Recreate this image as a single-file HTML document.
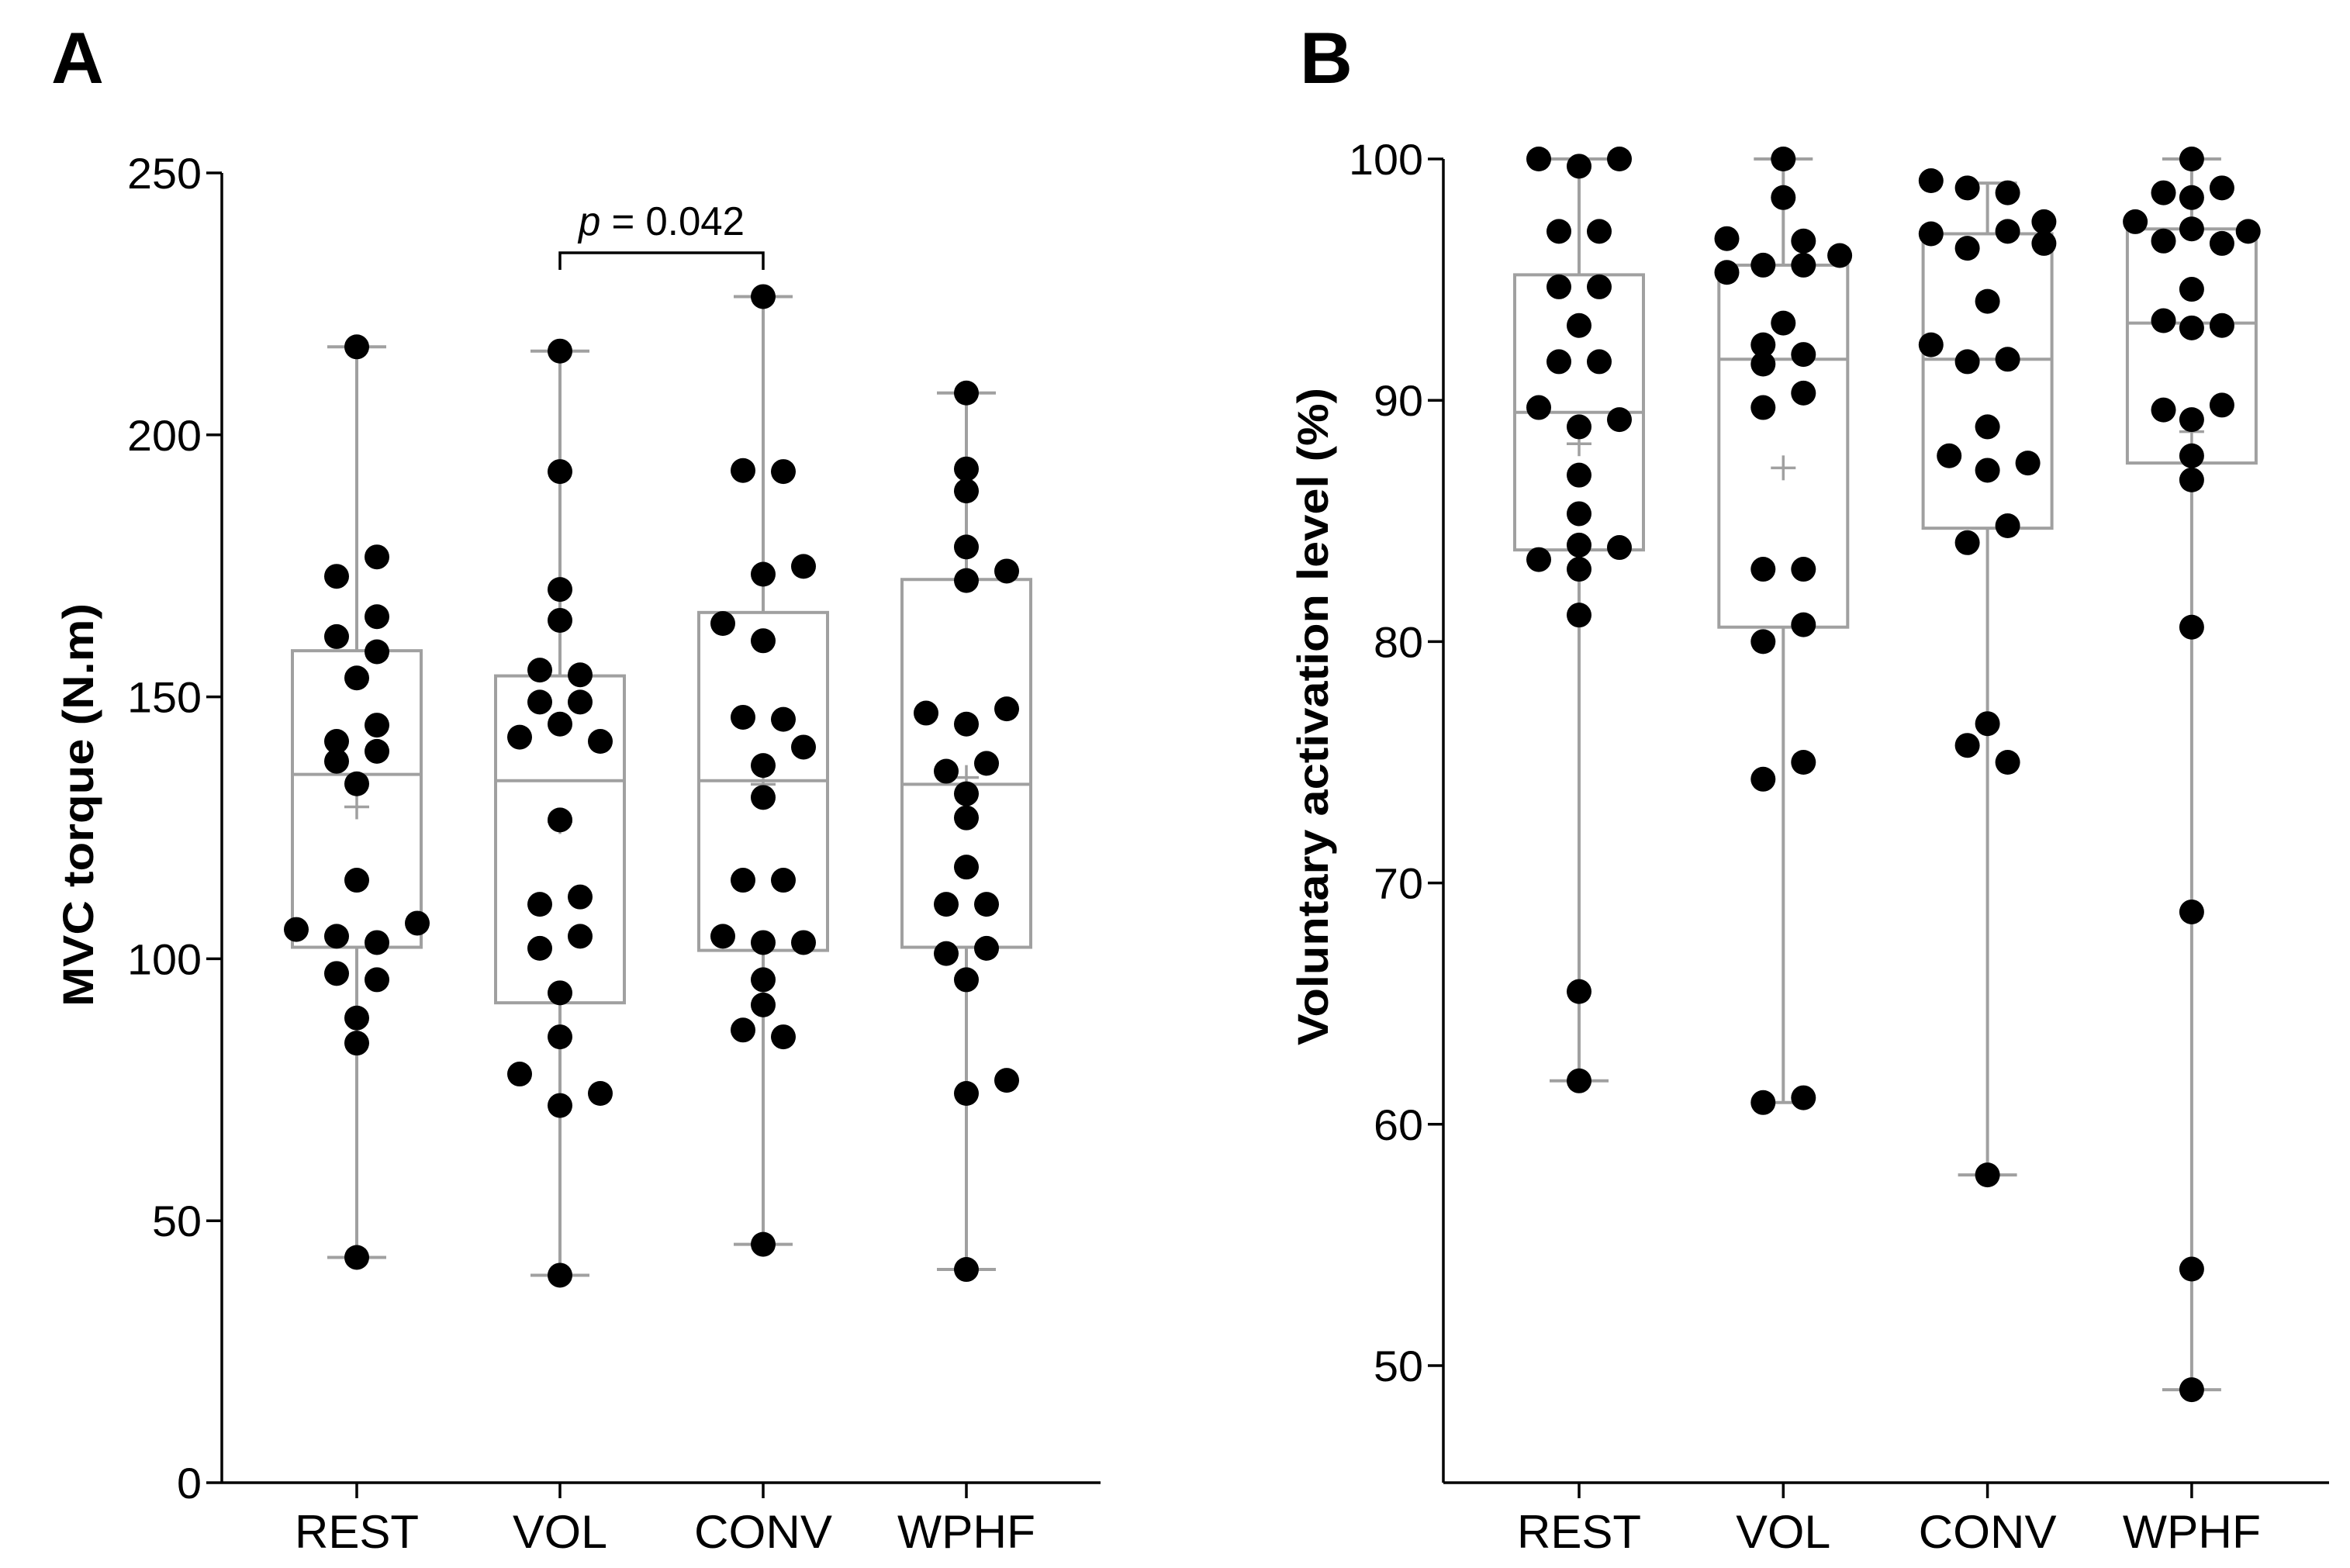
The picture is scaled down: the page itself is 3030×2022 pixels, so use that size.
<!DOCTYPE html>
<html><head><meta charset="utf-8"><style>
html,body{margin:0;padding:0;background:#fff}
svg{display:block}
text{font-family:"Liberation Sans",Arial,sans-serif;fill:#000}
</style></head><body>
<svg id="chart" width="3030" height="2022" viewBox="0 0 3030 2022" xmlns="http://www.w3.org/2000/svg">
<text x="66" y="107" font-size="94" font-weight="bold">A</text>
<text x="1676" y="107" font-size="94" font-weight="bold">B</text>
<g id="pa"></g>
<g id="pb"></g>
</svg>
<script>
const categories = ["REST","VOL","CONV","WPHF"];
// Panel A: MVC torque values per group, and horizontal jitter (in dot steps)
const torqueRest = [216.8,173.0,176.7,161.5,165.3,158.6,153.6,141.5,144.6,137.7,139.6,133.4,115.0,105.6,104.3,103.1,106.8,97.2,96.0,88.7,83.9,43.0];
const torqueRestJit = [0,-1,1,-1,1,1,0,-1,1,-1,1,0,0,-3,-1,1,3,-1,1,0,0,0];
const torqueVol = [216.0,193.0,170.5,164.6,155.1,154.2,149.0,149.0,142.3,144.8,141.5,126.5,110.4,111.8,102.0,104.3,93.5,85.1,78.0,74.3,72.0,39.6];
const torqueVolJit = [0,0,0,0,-1,1,-1,1,-2,0,2,0,-1,1,-1,1,0,0,-2,2,0,0];
const torqueConv = [226.4,193.2,193.0,173.4,174.9,164.0,160.7,146.1,145.7,136.9,140.4,130.8,115.0,115.0,104.3,103.1,103.1,96.0,91.2,86.4,85.1,45.5];
const torqueConvJit = [0,-1,1,0,2,-2,0,-1,1,0,2,0,-1,1,-2,0,2,0,0,-1,1,0];
const torqueWphf = [208.0,193.5,189.3,178.6,172.2,174.0,146.9,147.7,144.8,135.8,137.3,131.5,126.9,117.5,110.4,110.4,101.0,102.0,96.0,74.3,76.8,40.7];
const torqueWphfJit = [0,0,0,0,0,2,-2,2,0,-1,1,0,0,0,-1,1,-1,1,0,0,2,0];
// box stats [min, q1, median, q3, max, mean]
const torqueStats = [[43.0,102.2,135.2,158.8,216.8,129.0],[39.6,91.6,134.0,154.0,216.0,126.2],[45.5,101.6,134.0,166.1,226.4,133.3],[40.7,102.2,133.3,172.4,208.0,134.6]];
const torqueTicks = [0,50,100,150,200,250];
// Panel B: voluntary activation
const vaRest = [100,99.7,100,97.0,97.0,94.7,94.7,93.1,91.6,91.6,89.7,88.9,89.2,86.9,85.3,83.4,84.0,83.9,83.0,81.1,65.5,61.8];
const vaRestJit = [-2,0,2,-1,1,-1,1,0,-1,1,-2,0,2,0,0,-2,0,2,0,0,0,0];
const vaVol = [100,98.4,96.7,95.3,95.6,95.6,96.6,96.0,93.2,92.3,91.5,91.9,89.7,90.3,83.0,83.0,80.0,80.7,74.3,75.0,60.9,61.1];
const vaVolJit = [0,0,-2.8,-2.8,-1,1,1,2.8,0,-1,-1,1,-1,1,-1,1,-1,1,-1,1,-1,1];
const vaConv = [99.1,98.8,98.6,96.9,96.3,97.0,97.4,96.5,94.1,92.3,91.6,91.7,88.9,87.7,87.1,87.4,84.8,84.1,76.6,75.7,75.0,57.9];
const vaConvJit = [-2.8,-1,1,-2.8,-1,1,2.8,2.8,0,-2.8,-1,1,0,-1.9,0,2,1,-1,0,-1,1,0];
const vaWphf = [100,98.6,98.4,98.8,97.4,96.6,97.1,96.5,97.0,94.6,93.3,93.0,93.1,89.6,89.2,89.8,87.7,86.7,80.6,68.8,54.0,49.0];
const vaWphfJit = [0,-1.4,0,1.5,-2.8,-1.4,0,1.5,2.8,0,-1.4,0,1.5,-1.4,0,1.5,0,0,0,0,0,0];
const vaStats = [[61.8,83.8,89.5,95.2,100,88.2],[60.9,80.6,91.7,95.6,100,87.2],[57.9,84.7,91.7,96.9,99.0,88.9],[49.0,87.4,93.2,97.1,100,88.7]];
const vaTicks = [50,60,70,80,90,100];

const NS="http://www.w3.org/2000/svg";
function mk(parent,tag,attrs){const e=document.createElementNS(NS,tag);for(const k in attrs)e.setAttribute(k,attrs[k]);parent.appendChild(e);return e;}
const GRAY="#a0a0a0";

function drawPanel(g,cfg){
  const yScale=v=>cfg.y0px+(v-cfg.vmin)*(cfg.y1px-cfg.y0px)/(cfg.vmax-cfg.vmin);
  const xScale=i=>cfg.xs[0]+i*cfg.step;
  const ya=mk(g,"line",{x1:cfg.ax,y1:cfg.axTop,x2:cfg.ax,y2:cfg.axBot,stroke:"#000","stroke-width":3.5});
  
  
  const xa=mk(g,"line",{x1:cfg.ax,y1:cfg.axBot,x2:cfg.axRight,y2:cfg.axBot,stroke:"#000","stroke-width":3.5});
  
  
  cfg.ticks.forEach(t=>{
    const y=yScale(t);
    const tl=mk(g,"line",{x1:cfg.ax-20,y1:y,x2:cfg.ax,y2:y,stroke:"#000","stroke-width":3.5});
    
    
    const s=String(t);
    const tx=mk(g,"text",{x:cfg.ax-26,y:y+20,"font-size":56,"text-anchor":"end",textLength:s.length*32,lengthAdjust:"spacingAndGlyphs"});
    tx.textContent=s;
    
    
  });
  const lw={REST:160,VOL:122,CONV:178,WPHF:178};
  categories.forEach((c,i)=>{
    const x=xScale(i);
    const tk=mk(g,"line",{x1:x,y1:cfg.axBot,x2:x,y2:cfg.axBot+20,stroke:"#000","stroke-width":3.5});
    
    
    const t=mk(g,"text",{x:x,y:cfg.axBot+84,"font-size":60,"text-anchor":"middle",textLength:lw[c],lengthAdjust:"spacingAndGlyphs"});
    t.textContent=c;
    
    
  });
  const yt=mk(g,"text",{x:0,y:0,"font-size":56,"font-weight":"bold","text-anchor":"middle",transform:`translate(${cfg.titleX},${cfg.titleY}) rotate(-90)`,textLength:cfg.titleLen,lengthAdjust:"spacingAndGlyphs"});
  yt.textContent=cfg.title;
  
  
  cfg.stats.forEach((s,i)=>{
    const x=xScale(i),bw=83,cw=38;
    const bg=mk(g,"g",{stroke:GRAY,"stroke-width":4,fill:"none"});
    
    
    mk(bg,"line",{x1:x,y1:yScale(s[0]),x2:x,y2:yScale(s[1])});
    mk(bg,"line",{x1:x,y1:yScale(s[3]),x2:x,y2:yScale(s[4])});
    mk(bg,"line",{x1:x-cw,y1:yScale(s[0]),x2:x+cw,y2:yScale(s[0])});
    mk(bg,"line",{x1:x-cw,y1:yScale(s[4]),x2:x+cw,y2:yScale(s[4])});
    mk(bg,"rect",{x:x-bw,y:yScale(s[3]),width:2*bw,height:yScale(s[1])-yScale(s[3])});
    mk(bg,"line",{x1:x-bw,y1:yScale(s[2]),x2:x+bw,y2:yScale(s[2])});
    const my=yScale(s[5]);
    mk(bg,"line",{x1:x-16,y1:my,x2:x+16,y2:my,"stroke-width":3.5});
    mk(bg,"line",{x1:x,y1:my-16,x2:x,y2:my+16,"stroke-width":3.5});
  });
  cfg.series.forEach((vals,i)=>{
    const jit=cfg.jits[i];
    vals.forEach((v,k)=>{
      const p=mk(g,"circle",{cx:xScale(i)+jit[k]*26,cy:yScale(v),r:16,fill:"#000"});
      
      
    });
  });
  return {xScale,yScale};
}

const A=drawPanel(document.getElementById("pa"),{
  vmin:0,vmax:250,y0px:1912,y1px:223,ax:286,axTop:223,axBot:1912,axRight:1419,
  xs:[460],step:262,ticks:torqueTicks,stats:torqueStats,
  series:[torqueRest,torqueVol,torqueConv,torqueWphf],jits:[torqueRestJit,torqueVolJit,torqueConvJit,torqueWphfJit],
  title:"MVC torque (N.m)",titleX:120,titleY:1038,titleLen:520
});
drawPanel(document.getElementById("pb"),{
  vmin:50,vmax:100,y0px:1761,y1px:205,ax:1861,axTop:205,axBot:1912,axRight:3003,
  xs:[2036],step:263.3,ticks:vaTicks,stats:vaStats,
  series:[vaRest,vaVol,vaConv,vaWphf],jits:[vaRestJit,vaVolJit,vaConvJit,vaWphfJit],
  title:"Voluntary activation level (%)",titleX:1712,titleY:924,titleLen:848
});
const pa=document.getElementById("pa");
const x1=A.xScale(1),x2=A.xScale(2);
const br=mk(pa,"path",{d:`M${x1},348 L${x1},326 L${x2},326 L${x2},348`,stroke:"#000","stroke-width":3.5,fill:"none"});


const pt=mk(pa,"text",{x:(x1+x2)/2,y:303,"font-size":52,"text-anchor":"middle",textLength:214,lengthAdjust:"spacingAndGlyphs"});
pt.innerHTML='<tspan font-style="italic">p</tspan> = 0.042';


</script>
</body></html>
